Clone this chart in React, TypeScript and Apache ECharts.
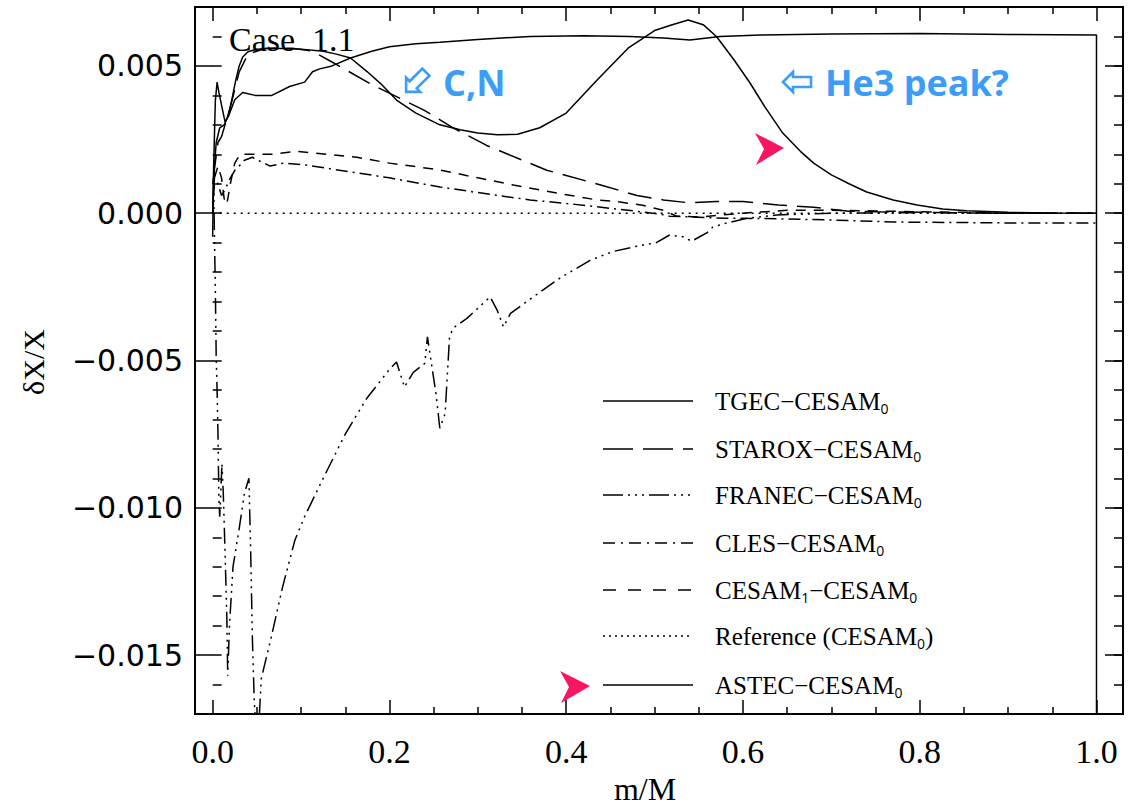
import React, { useEffect, useRef } from 'react';
import * as echarts from 'echarts';

// ---------- data (m/M, dX/X) ----------
const astec: [number, number][] = [
  [0, 0], [0.001, 0.0012], [0.004, 0.0024], [0.008, 0.0029], [0.013, 0.003], [0.016, 0.0032],
  [0.019, 0.0035], [0.022, 0.0039], [0.026, 0.0045], [0.03, 0.005], [0.034, 0.0053], [0.04, 0.00548],
  [0.05, 0.00557], [0.07, 0.0056], [0.1, 0.00557], [0.125, 0.0055], [0.14, 0.0054], [0.156, 0.00527],
  [0.175, 0.0048], [0.19, 0.0044], [0.208, 0.00384], [0.23, 0.0034], [0.257, 0.003], [0.28, 0.00283],
  [0.3, 0.00272], [0.322, 0.00266], [0.345, 0.00268], [0.37, 0.0029], [0.4, 0.0034], [0.435, 0.00452],
  [0.47, 0.0056], [0.5, 0.0062], [0.52, 0.0064], [0.538, 0.00656], [0.555, 0.0064], [0.57, 0.006],
  [0.59, 0.0052], [0.608, 0.00442], [0.625, 0.0036], [0.645, 0.00272], [0.665, 0.0021], [0.68, 0.0017],
  [0.7, 0.0013], [0.72, 0.001], [0.74, 0.00072], [0.77, 0.00045], [0.797, 0.00028], [0.826, 0.00014],
  [0.853, 0.00008], [0.9, 0.00003], [0.95, 0.00001], [1.0, 0],
];

const tgec: [number, number][] = [
  [0, -0.0008], [0.001, 0.0015], [0.003, 0.0038], [0.005, 0.00445], [0.007, 0.0041], [0.0105, 0.0036],
  [0.014, 0.0031], [0.018, 0.0033], [0.025, 0.00385], [0.034, 0.0041], [0.048, 0.004], [0.067, 0.004],
  [0.087, 0.0043], [0.104, 0.00445], [0.113, 0.0048], [0.121, 0.0049], [0.135, 0.005], [0.156, 0.00527],
  [0.18, 0.0055], [0.2, 0.00565], [0.23, 0.00575], [0.257, 0.0058], [0.3, 0.0059], [0.359, 0.006],
  [0.42, 0.00602], [0.472, 0.006], [0.51, 0.00595], [0.54, 0.00588], [0.574, 0.006], [0.62, 0.00605],
  [0.7, 0.00608], [0.8, 0.0061], [0.9, 0.00607], [1.0, 0.00605], [1.0, -0.02],
];

const starox: [number, number][] = [
  [0, 0], [0.002, 0.0015], [0.006, 0.0024], [0.01, 0.0026], [0.02, 0.0036], [0.03, 0.0048],
  [0.04, 0.0054], [0.06, 0.0056], [0.09, 0.0056], [0.113, 0.0055], [0.137, 0.0051], [0.178, 0.0044],
  [0.216, 0.00384], [0.239, 0.0035], [0.272, 0.0029], [0.31, 0.0023], [0.378, 0.00146], [0.44, 0.00095],
  [0.48, 0.0006], [0.51, 0.00045], [0.54, 0.00035], [0.57, 0.0004], [0.6, 0.0004], [0.64, 0.00028],
  [0.68, 0.0002], [0.72, 0.00007], [0.75, 0.00005], [0.8, 0.00003], [0.85, 0.00001], [0.9, 0], [1.0, 0],
];

const franec: [number, number][] = [
  [0, 0.001], [0.001, 0.0012], [0.002, -0.0008], [0.003, -0.0025], [0.004, -0.0049], [0.005, -0.006],
  [0.006, -0.0075], [0.007, -0.0097], [0.008, -0.0103], [0.0105, -0.0085], [0.012, -0.0095],
  [0.014, -0.0115], [0.016, -0.0137], [0.017, -0.0157], [0.019, -0.014], [0.023, -0.012],
  [0.029, -0.0109], [0.036, -0.0095], [0.041, -0.009], [0.043, -0.0115], [0.045, -0.0145],
  [0.047, -0.0165], [0.049, -0.0178], [0.052, -0.0175], [0.055, -0.0158], [0.067, -0.0143],
  [0.079, -0.0127], [0.093, -0.0111], [0.104, -0.0103], [0.125, -0.009], [0.15, -0.0075],
  [0.174, -0.0063], [0.2, -0.0053], [0.208, -0.00505], [0.217, -0.0059], [0.227, -0.0054],
  [0.24, -0.0051], [0.243, -0.0042], [0.248, -0.0052], [0.253, -0.0062], [0.257, -0.0073],
  [0.263, -0.0068], [0.268, -0.0042], [0.272, -0.0039], [0.288, -0.00356], [0.314, -0.00284],
  [0.322, -0.0033], [0.329, -0.00386], [0.337, -0.0034], [0.36, -0.0029], [0.393, -0.0022],
  [0.427, -0.0016], [0.453, -0.0013], [0.483, -0.0011], [0.502, -0.001], [0.517, -0.00074],
  [0.532, -0.0008], [0.542, -0.00095], [0.551, -0.0008], [0.559, -0.00067], [0.566, -0.00047],
  [0.582, -0.00033], [0.605, -0.00017], [0.638, -0.00006], [0.7, 0], [0.8, 0.00002], [0.9, 0], [1.0, 0],
];

const cles: [number, number][] = [
  [0, 0], [0.002, 0.0012], [0.006, 0.001], [0.01, 0.0006], [0.014, 0.0008], [0.02, 0.0012],
  [0.026, 0.0015], [0.031, 0.00163], [0.036, 0.0018], [0.045, 0.0019], [0.05, 0.0018], [0.055, 0.00175],
  [0.065, 0.0016], [0.08, 0.0017], [0.104, 0.00164], [0.163, 0.00137], [0.2, 0.0012], [0.257, 0.00089],
  [0.3, 0.0007], [0.359, 0.00045], [0.41, 0.0003], [0.47, 0.0001], [0.506, -0.00003], [0.517, -0.0001],
  [0.58, -0.00017], [0.623, -0.00018], [0.7, -0.00023], [0.77, -0.0003], [0.9, -0.00033], [1.0, -0.00033],
];

const cesam1: [number, number][] = [
  [0, 0], [0.002, 0.0012], [0.006, 0.0016], [0.01, 0.0012], [0.013, 0.0005], [0.016, 0.0003],
  [0.02, 0.001], [0.025, 0.0017], [0.031, 0.002], [0.04, 0.002], [0.067, 0.002], [0.095, 0.0021],
  [0.13, 0.002], [0.163, 0.0019], [0.2, 0.0017], [0.257, 0.00147], [0.3, 0.0012], [0.34, 0.00096],
  [0.39, 0.00068], [0.435, 0.00045], [0.455, 0.0004], [0.485, 0.00028], [0.51, 0.0001], [0.525, -0.0001],
  [0.55, -0.00013], [0.6, 0], [0.65, 0.0001], [0.7, 0.0001], [0.8, 0.00005], [0.9, 0], [1.0, 0],
];

const reference: [number, number][] = [[0, 0], [1.0, 0]];

const legendNames = [
  '{m|TGEC−CESAM}{s|0}',
  '{m|STAROX−CESAM}{s|0}',
  '{m|FRANEC−CESAM}{s|0}',
  '{m|CLES−CESAM}{s|0}',
  '{m|CESAM}{s|1}{m|−CESAM}{s|0}',
  '{m|Reference (CESAM}{s|0}{m|)}',
  '{m|ASTEC−CESAM}{s|0}',
];

const SERIF = "'Liberation Serif', 'DejaVu Serif', serif";
const SANS = "'Open Sans', 'DejaVu Sans', sans-serif";
const BLUE = '#3b9df7';
const PINK = '#fa1464';

const dashStarox = [24, 10];
const dashFranec = [16, 5, 2, 5, 2, 5, 2, 5];
const dashCles = [12, 5, 2, 5];
const dashCesam1 = [10, 8];
const dashRef = [2, 5];

const legendDashes: (number[] | null)[] = [
  null,
  [30, 10],
  [20, 5, 2, 5, 2, 5, 2, 5],
  [12, 6, 2, 6],
  [13, 12],
  [2, 4],
  null,
];
const legendY = [401, 449, 495, 543, 590, 636, 685];

const tickStyle = { color: '#000', width: 1.5 };

function lineSeries(name: string, data: [number, number][], dash: number[] | 'solid') {
  return {
    name,
    type: 'line',
    xAxisIndex: 0,
    yAxisIndex: 0,
    data,
    showSymbol: false,
    symbol: 'none',
    clip: true,
    lineStyle: { color: '#000', width: 1.5, type: dash },
    z: 3,
  };
}

function arrowPoly(cx: number, cy: number, rot: number) {
  return {
    type: 'polygon',
    x: cx,
    y: cy,
    rotation: rot,
    shape: {
      points: [[-14, 0], [-4, -10], [-4, -5], [14, -5], [14, 5], [-4, 5], [-4, 10]],
    },
    style: { fill: '#fff', stroke: BLUE, lineWidth: 2.6 },
    z: 10,
  };
}

export default function App() {
  const ref = useRef<HTMLDivElement>(null);
  useEffect(() => {
    if (!ref.current) return;
    const chart = echarts.init(ref.current, undefined, { renderer: 'svg' });

    const legendGraphics: any[] = [];
    legendNames.forEach((t, i) => {
      const y = legendY[i];
      const dash = legendDashes[i];
      legendGraphics.push({
        type: 'line',
        shape: { x1: 603, y1: y, x2: 693, y2: y },
        style: { stroke: '#000', lineWidth: 1.5, lineDash: dash || undefined },
        z: 10,
      });
      legendGraphics.push({
        type: 'text',
        x: 715,
        y: y,
        style: {
          text: t,
          verticalAlign: 'middle',
          align: 'left',
          rich: {
            m: { fontFamily: SERIF, fontSize: 25, lineHeight: 28, fill: '#000' },
            s: { fontFamily: SANS, fontSize: 14, lineHeight: 14, verticalAlign: 'bottom', fill: '#000' },
          },
        },
        z: 10,
      });
    });

    const option: any = {
      animation: false,
      backgroundColor: '#fff',
      grid: [
        { left: 195, right: 17, top: 7, bottom: 93, show: true, borderColor: '#000', borderWidth: 2, backgroundColor: 'transparent' },
        { left: 212.68, right: 43.5, top: 7, bottom: 93 },
        { left: 195, right: 17, top: 65.92, bottom: 151.92 },
      ],
      xAxis: [
        { type: 'value', gridIndex: 0, min: -0.02, max: 1.03, show: false },
        {
          type: 'value', gridIndex: 1, position: 'bottom', min: 0, max: 1, interval: 0.2,
          axisLine: { show: false },
          axisTick: { show: true, inside: true, length: 14, lineStyle: tickStyle },
          minorTick: { show: true, splitNumber: 4, length: 7, lineStyle: tickStyle },
          splitLine: { show: false },
          minorSplitLine: { show: false },
          axisLabel: {
            show: true, margin: 20, color: '#000', fontFamily: SERIF, fontSize: 34,
            formatter: (v: number) => v.toFixed(1),
          },
        },
        {
          type: 'value', gridIndex: 1, position: 'top', min: 0, max: 1, interval: 0.2,
          axisLine: { show: false },
          axisTick: { show: true, inside: true, length: 14, lineStyle: tickStyle },
          minorTick: { show: true, splitNumber: 4, length: 7, lineStyle: tickStyle },
          splitLine: { show: false },
          minorSplitLine: { show: false },
          axisLabel: { show: false },
        },
        { type: 'value', gridIndex: 2, min: 0, max: 1, show: false },
      ],
      yAxis: [
        {
          type: 'value', gridIndex: 0, position: 'left', min: -0.017, max: 0.007, interval: 0.001,
          axisLine: { show: false },
          axisTick: { show: true, inside: true, length: 9, lineStyle: tickStyle },
          splitLine: { show: false },
          axisLabel: {
            show: true, margin: 12, color: '#000', fontFamily: "'DejaVu Sans', sans-serif", fontSize: 30,
            formatter: (v: number) => {
              const k = Math.round(v * 1000);
              if (k % 5 !== 0) return '';
              return (k < 0 ? '−' : '') + Math.abs(k / 1000).toFixed(3);
            },
          },
        },
        {
          type: 'value', gridIndex: 0, position: 'right', min: -0.017, max: 0.007, interval: 0.001,
          axisLine: { show: false },
          axisTick: { show: true, inside: true, length: 9, lineStyle: tickStyle },
          splitLine: { show: false },
          axisLabel: { show: false },
        },
        { type: 'value', gridIndex: 1, min: 0, max: 1, show: false },
        {
          type: 'value', gridIndex: 2, position: 'left', min: -0.015, max: 0.005, interval: 0.005,
          axisLine: { show: false },
          axisTick: { show: true, inside: true, length: 18, lineStyle: tickStyle },
          splitLine: { show: false },
          axisLabel: { show: false },
        },
        {
          type: 'value', gridIndex: 2, position: 'right', min: -0.015, max: 0.005, interval: 0.005,
          axisLine: { show: false },
          axisTick: { show: true, inside: true, length: 18, lineStyle: tickStyle },
          splitLine: { show: false },
          axisLabel: { show: false },
        },
      ],
      series: [
        lineSeries('TGEC−CESAM0', tgec, 'solid'),
        lineSeries('STAROX−CESAM0', starox, dashStarox),
        lineSeries('FRANEC−CESAM0', franec, dashFranec),
        lineSeries('CLES−CESAM0', cles, dashCles),
        lineSeries('CESAM1−CESAM0', cesam1, dashCesam1),
        lineSeries('Reference (CESAM0)', reference, dashRef),
        lineSeries('ASTEC−CESAM0', astec, 'solid'),
      ],
      graphic: [
        ...legendGraphics,
        {
          type: 'text', x: 229, y: 39,
          style: { text: 'Case  1.1', fontFamily: SERIF, fontSize: 34, fill: '#000', verticalAlign: 'middle', align: 'left' },
          z: 10,
        },
        {
          type: 'text', x: 645, y: 789,
          style: { text: 'm/M', fontFamily: SERIF, fontSize: 32, fill: '#000', verticalAlign: 'middle', align: 'center' },
          z: 10,
        },
        {
          type: 'text', x: 33, y: 362, rotation: Math.PI / 2,
          style: { text: 'δX/X', fontFamily: SERIF, fontSize: 30, fill: '#000', verticalAlign: 'middle', align: 'center' },
          z: 10,
        },
        {
          type: 'text', x: 443, y: 82,
          style: { text: 'C,N', fontFamily: SANS, fontWeight: 'bold', fontSize: 36, fill: BLUE, verticalAlign: 'middle', align: 'left' },
          z: 10,
        },
        {
          type: 'text', x: 825, y: 82,
          style: { text: 'He3 peak?', fontFamily: SANS, fontWeight: 'bold', fontSize: 36, fill: BLUE, verticalAlign: 'middle', align: 'left' },
          z: 10,
        },
        arrowPoly(416, 82, Math.PI / 4),
        arrowPoly(797, 82, 0),
        {
          type: 'polygon',
          shape: { points: [[784, 148], [755, 133], [764, 149], [756, 165]] },
          style: { fill: PINK },
          z: 10,
        },
        {
          type: 'polygon',
          shape: { points: [[590, 686], [560, 671], [569, 687], [561, 703]] },
          style: { fill: PINK },
          z: 10,
        },
      ],
    };

    chart.setOption(option);
    return () => chart.dispose();
  }, []);

  return (
    <div
      ref={ref}
      style={{ position: 'absolute', left: 0, top: 0, width: 1140, height: 807, background: '#fff' }}
    />
  );
}
